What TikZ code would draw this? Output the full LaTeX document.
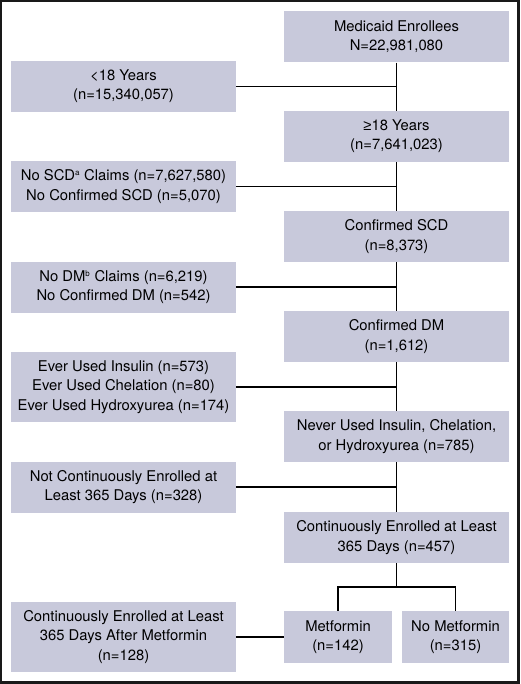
\documentclass[tikz,border=0pt]{standalone}
\usepackage{fontspec}
\setmainfont{TeX Gyre Heros}
\newfontfamily\symfont{Liberation Sans}
\definecolor{boxfill}{RGB}{200,201,219}
\definecolor{framecol}{RGB}{25,25,25}
\begin{document}
\begin{tikzpicture}[x=1pt,y=-1pt,
  box/.style={draw=none,fill=boxfill,align=center,inner sep=0pt,
    font=\fontsize{14.8}{19.3}\selectfont,text=black},
  wbox/.style={box,minimum width=225pt,minimum height=51pt},
  tall/.style={box,minimum width=225pt,minimum height=70pt},
  sbox/.style={box,minimum width=107.5pt,minimum height=52pt},
  conn/.style={draw=black,line width=1.7pt}]
\useasboundingbox (0,0) rectangle (520,684);
\draw[framecol,line width=2.2pt] (1.1,1.1) rectangle (518.4,682.4);

\node[wbox] (top) at (396.5,37) {Medicaid Enrollees\\N=22,981,080};
\node[wbox] (l1) at (123.5,86.5) {<18 Years\\(n=15,340,057)};
\node[wbox] (r2) at (396.5,136.5) {{\symfont ≥}18 Years\\(n=7,641,023)};
\node[wbox] (l2) at (123.5,186.5) {No SCD\textsuperscript{\fontsize{8}{8}\selectfont a} Claims (n=7,627,580)\\No Confirmed SCD (n=5,070)};
\node[wbox] (r3) at (396.5,236.5) {Confirmed SCD\\(n=8,373)};
\node[wbox] (l3) at (123.5,287) {No DM\textsuperscript{\fontsize{8}{8}\selectfont b} Claims (n=6,219)\\No Confirmed DM (n=542)};
\node[wbox] (r4) at (396.5,336.5) {Confirmed DM\\(n=1,612)};
\node[tall] (l4) at (123.5,387) {Ever Used Insulin (n=573)\\Ever Used Chelation (n=80)\\Ever Used Hydroxyurea (n=174)};
\node[wbox] (r5) at (396.5,436.5) {Never Used Insulin, Chelation,\\or Hydroxyurea (n=785)};
\node[wbox] (l5) at (123.5,487) {Not Continuously Enrolled at\\Least 365 Days (n=328)};
\node[wbox] (r6) at (396.5,537.5) {Continuously Enrolled at Least\\365 Days (n=457)};
\node[sbox] (met) at (338,637) {Metformin\\(n=142)};
\node[sbox] (nomet) at (455.5,637) {No Metformin\\(n=315)};
\node[tall] (l6) at (123.5,637) {Continuously Enrolled at Least\\365 Days After Metformin\\(n=128)};

\coordinate (split) at ([yshift=-24pt]r6.south);

\draw[conn] (top.south) -- (r2.north);
\draw[conn] (r2.south) -- (r3.north);
\draw[conn] (r3.south) -- (r4.north);
\draw[conn] (r4.south) -- (r5.north);
\draw[conn] (r5.south) -- (r6.north);
\draw[conn] (l1.east) -- (l1.east -| top.south);
\draw[conn] (l2.east) -- (l2.east -| top.south);
\draw[conn] (l3.east) -- (l3.east -| top.south);
\draw[conn] (l4.east) -- (l4.east -| top.south);
\draw[conn] (l5.east) -- (l5.east -| top.south);
\draw[conn] (r6.south) -- (split);
\draw[conn] (met.north) |- (split) -| (nomet.north);
\draw[conn] (l6.east) -- (met.west);
\end{tikzpicture}
\end{document}
